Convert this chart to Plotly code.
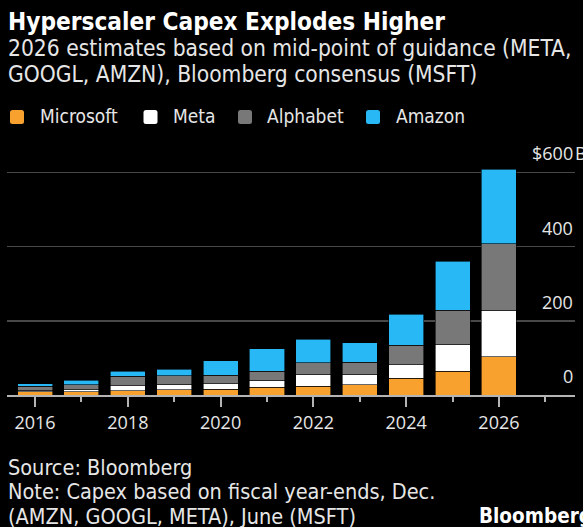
import plotly.graph_objects as go

years = [2016, 2017, 2018, 2019, 2020, 2021, 2022, 2023, 2024, 2025, 2026]
microsoft = [8.3, 8.1, 11.6, 13.9, 15.4, 20.6, 23.9, 28.1, 44.5, 64.6, 103]
meta = [4.5, 6.7, 13.9, 15.1, 15.1, 18.6, 31.4, 27.3, 37.3, 72.2, 125]
alphabet = [10.2, 13.2, 25.1, 23.5, 22.3, 24.6, 31.5, 32.3, 52.5, 91.4, 180]
amazon = [6.7, 11.9, 13.4, 16.9, 40.1, 61.1, 63.6, 52.7, 83.0, 131.8, 200]

series_names = ["Microsoft", "Meta", "Alphabet", "Amazon"]
series_values = [microsoft, meta, alphabet, amazon]
series_colors = ["#F8A12E", "#FFFFFF", "#787878", "#28B8F5"]

y_tick_vals = [0, 200, 400, 600]
y_tick_text = ["0", "200", "400", "$600"]

title = "Hyperscaler Capex Explodes Higher"
subtitle = ["2026 estimates based on mid-point of guidance (META,",
            "GOOGL, AMZN), Bloomberg consensus (MSFT)"]
footer = ["Source: Bloomberg",
          "Note: Capex based on fiscal year-ends, Dec.",
          "(AMZN, GOOGL, META), June (MSFT)"]

W, H = 583, 527
ML, MR, MT, MB = 7, 8, 150, 132
PW = W - ML - MR
PH = H - MT - MB

FONT = "DejaVu Sans Condensed, Liberation Sans Narrow, Roboto, sans-serif"
NUMFONT = "Open Sans, Noto Sans, sans-serif"


def px(x):
    return (x - ML) / PW


def py(y):
    return (H - MB - y) / PH


fig = go.Figure()
for name, vals, col in zip(series_names, series_values, series_colors):
    fig.add_trace(go.Bar(
        x=years, y=vals, name=name, width=0.755,
        marker=dict(color=col, line=dict(color="#000000", width=0.6)),
        showlegend=False, hoverinfo="skip",
    ))

annotations = []
# title
annotations.append(dict(text="<b>" + title + "</b>", x=px(6), y=py(22), xref="paper", yref="paper",
                        xanchor="left", yanchor="middle", showarrow=False,
                        font=dict(family=FONT, size=24.2, color="#FFFFFF")))
for i, line in enumerate(subtitle):
    annotations.append(dict(text=line, x=px(6), y=py(48 + 26 * i), xref="paper", yref="paper",
                            xanchor="left", yanchor="middle", showarrow=False,
                            font=dict(family=FONT, size=22.6, color="#E6E6E6")))
# legend
leg_sq = [17, 150.5, 245, 373]
leg_tx = [38, 171, 265, 394]
shapes = []
for name, col, sx, tx in zip(series_names, series_colors, leg_sq, leg_tx):
    x0, x1 = sx - 7, sx + 7
    y0, y1 = 110, 124
    r = 2.5
    path = (f"M {px(x0 + r)},{py(y0)} L {px(x1 - r)},{py(y0)} Q {px(x1)},{py(y0)} {px(x1)},{py(y0 + r)} "
            f"L {px(x1)},{py(y1 - r)} Q {px(x1)},{py(y1)} {px(x1 - r)},{py(y1)} "
            f"L {px(x0 + r)},{py(y1)} Q {px(x0)},{py(y1)} {px(x0)},{py(y1 - r)} "
            f"L {px(x0)},{py(y0 + r)} Q {px(x0)},{py(y0)} {px(x0 + r)},{py(y0)} Z")
    shapes.append(dict(type="path", path=path, xref="paper", yref="paper",
                       fillcolor=col, line=dict(width=0)))
    annotations.append(dict(text=name, x=px(tx), y=py(116), xref="paper", yref="paper",
                            xanchor="left", yanchor="middle", showarrow=False,
                            font=dict(family=FONT, size=19, color="#E6E6E6")))
# y labels above gridlines
for v, t in zip(y_tick_vals, y_tick_text):
    annotations.append(dict(text=t, x=1, y=v, xref="paper", yref="y",
                            xanchor="right", yanchor="bottom", yshift=5, showarrow=False,
                            font=dict(family=NUMFONT, size=18, color="#E6E6E6")))
annotations.append(dict(text="B", x=1, y=600, xref="paper", yref="y",
                        xanchor="left", yanchor="bottom", yshift=5, xshift=-2, showarrow=False,
                        font=dict(family=NUMFONT, size=18, color="#E6E6E6")))
# footer
for i, line in enumerate(footer):
    annotations.append(dict(text=line, x=px(6), y=py(467 + 24.5 * i), xref="paper", yref="paper",
                            xanchor="left", yanchor="middle", showarrow=False,
                            font=dict(family=FONT, size=21.5, color="#E6E6E6")))
annotations.append(dict(text="<b>Bloomberg</b>", x=px(477), y=py(516), xref="paper", yref="paper",
                        xanchor="left", yanchor="middle", showarrow=False,
                        font=dict(family=FONT, size=20.5, color="#FFFFFF")))

fig.update_layout(
    width=W, height=H,
    margin=dict(l=ML, r=MR, t=MT, b=MB, pad=0),
    paper_bgcolor="#000000", plot_bgcolor="#000000",
    barmode="stack", bargap=0,
    annotations=annotations, shapes=shapes,
    xaxis=dict(range=[2015.395, 2027.64], tickmode="linear", tick0=2016, dtick=2,
               ticks="outside", ticklen=10, tickwidth=2, tickcolor="#B4B4B4",
               minor=dict(tickmode="linear", tick0=2016, dtick=1, ticks="outside", ticklen=5,
                          tickwidth=2, tickcolor="#B4B4B4", showgrid=False),
               showgrid=False, zeroline=False,
               showline=True, linecolor="#B4B4B4", linewidth=2,
               tickfont=dict(family=NUMFONT, size=18, color="#E6E6E6"), fixedrange=True),
    yaxis=dict(range=[0, 660], tickvals=y_tick_vals[1:], showticklabels=False,
               showgrid=True, gridcolor="#484848", gridwidth=1.5, zeroline=False,
               showline=False, fixedrange=True),
)

fig.write_html("out.html", config={"displayModeBar": False, "staticPlot": True},
               post_script="document.body.style.margin='0';document.body.style.overflow='hidden';")
